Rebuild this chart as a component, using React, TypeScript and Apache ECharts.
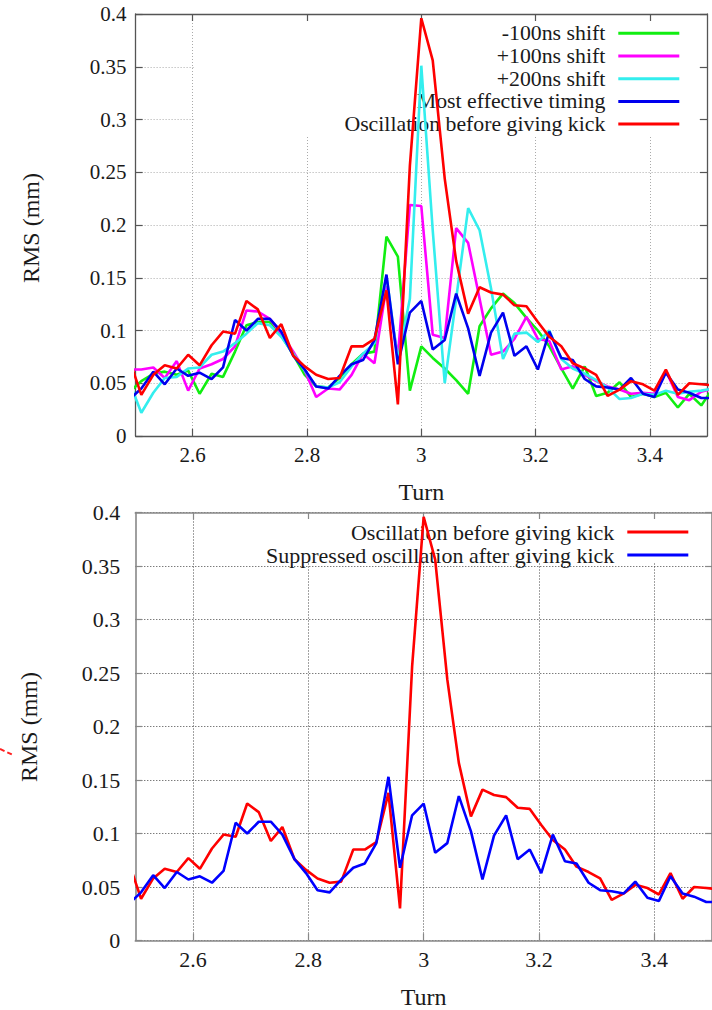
import React, { useEffect, useRef } from "react";
import * as echarts from "echarts";

// Turn positions of the samples (k = 0..50)
const turns = [
  2.49, 2.51, 2.531, 2.551, 2.572, 2.592, 2.612, 2.633, 2.653, 2.674,
  2.694, 2.714, 2.735, 2.755, 2.776, 2.796, 2.816, 2.837, 2.857, 2.878,
  2.898, 2.918, 2.939, 2.959, 2.98, 3.0, 3.02, 3.041, 3.061, 3.082,
  3.102, 3.122, 3.143, 3.163, 3.184, 3.204, 3.224, 3.245, 3.265, 3.286,
  3.306, 3.326, 3.347, 3.367, 3.388, 3.408, 3.428, 3.449, 3.469, 3.49,
  3.51,
];

const minus100 = [
  0.042, 0.052, 0.059, 0.061, 0.058, 0.062, 0.04, 0.059, 0.056, 0.08,
  0.105, 0.108, 0.108, 0.095, 0.077, 0.058, 0.047, 0.046, 0.055, 0.068,
  0.078, 0.08, 0.189, 0.17, 0.043, 0.085, 0.074, 0.064, 0.053, 0.04,
  0.104, 0.121, 0.135, 0.126, 0.112, 0.1, 0.085, 0.064, 0.045, 0.066,
  0.038, 0.041, 0.051, 0.037, 0.04, 0.037, 0.041, 0.027, 0.04, 0.029,
  0.045,
];

const plus100 = [
  0.063, 0.063, 0.065, 0.055, 0.071, 0.043, 0.064, 0.068, 0.073, 0.085,
  0.119, 0.118, 0.111, 0.097, 0.08, 0.062, 0.037, 0.045, 0.044, 0.058,
  0.078, 0.069, 0.142, 0.075, 0.219, 0.218, 0.096, 0.093, 0.197, 0.183,
  0.13, 0.077, 0.08, 0.092, 0.113, 0.092, 0.09, 0.063, 0.066, 0.058,
  0.052, 0.047, 0.044, 0.04, 0.041, 0.04, 0.062, 0.037, 0.034, 0.042,
  0.045,
];

const plus200 = [
  0.05, 0.022, 0.041, 0.055, 0.056, 0.064, 0.065, 0.077, 0.08, 0.088,
  0.097, 0.107, 0.105, 0.094, 0.078, 0.062, 0.047, 0.046, 0.051, 0.066,
  0.078, 0.088, 0.152, 0.072, 0.13, 0.351, 0.195, 0.05, 0.13, 0.216,
  0.195, 0.14, 0.073, 0.097, 0.098, 0.089, 0.1, 0.073, 0.064, 0.059,
  0.053, 0.046, 0.035, 0.036, 0.04, 0.039, 0.043, 0.04, 0.042, 0.043,
  0.045,
];

const effective = [
  0.035, 0.045, 0.061, 0.049, 0.064, 0.057, 0.06, 0.054, 0.065, 0.11,
  0.1, 0.111, 0.111, 0.099, 0.076, 0.063, 0.047, 0.045, 0.057, 0.068,
  0.072, 0.091, 0.153, 0.068, 0.117, 0.128, 0.082, 0.091, 0.135, 0.102,
  0.057, 0.098, 0.117, 0.076, 0.085, 0.063, 0.099, 0.074, 0.072, 0.054,
  0.047, 0.046, 0.044, 0.055, 0.04, 0.037, 0.06, 0.044, 0.041, 0.036,
  0.036,
];

const beforeKick = [
  0.071, 0.039, 0.058, 0.067, 0.064, 0.077, 0.067, 0.086, 0.099, 0.097,
  0.128, 0.12, 0.093, 0.106, 0.076, 0.066, 0.058, 0.054, 0.055, 0.085,
  0.085, 0.092, 0.138, 0.03, 0.256, 0.396, 0.356, 0.244, 0.166, 0.116,
  0.141, 0.136, 0.134, 0.124, 0.123, 0.108, 0.094, 0.085, 0.069, 0.064,
  0.058, 0.038, 0.044, 0.052, 0.049, 0.043, 0.063, 0.039, 0.05, 0.049,
  0.048,
];

const xTicks = [2.6, 2.8, 3.0, 3.2, 3.4];

const topNames = [
  "-100ns shift",
  "+100ns shift",
  "+200ns shift",
  "Most effective timing",
  "Oscillation before giving kick",
];
const bottomNames = [
  "Oscillation before giving kick",
  "Suppressed oscillation after giving kick",
];

const yTitle = "RMS (mm)";
const xTitle = "Turn";

const FONT = "Liberation Serif";

function pairs(vals: number[]) {
  return turns.map((t, i) => [t, vals[i]]);
}

export default function App() {
  const ref = useRef<HTMLDivElement>(null);

  useEffect(() => {
    if (!ref.current) return;
    const chart = echarts.init(ref.current, null, { renderer: "svg" });

    const richLabel = (size: number) => ({
      t: { fontFamily: FONT, fontSize: size, color: "#1a1a1a", lineHeight: size },
    });

    const makeX = (
      gridIndex: number,
      position: "top" | "bottom",
      axisColor: string,
      axisWidth: number,
      gridColor: string,
      labelSize: number,
      showName: boolean
    ) => ({
      type: "value",
      gridIndex,
      position,
      min: 2.5,
      max: 3.5,
      name: showName ? xTitle : "",
      nameLocation: "middle",
      nameGap: 44,
      nameTextStyle: { fontFamily: FONT, fontSize: 24, color: "#1a1a1a" },
      axisLine: { show: true, onZero: false, lineStyle: { color: axisColor, width: axisWidth } },
      axisTick: {
        show: true,
        inside: true,
        length: 7,
        customValues: xTicks,
        lineStyle: { color: axisColor, width: 1.2 },
      },
      axisLabel: {
        show: position === "bottom",
        customValues: xTicks,
        margin: 8,
        fontFamily: FONT,
        fontSize: labelSize,
        color: "#1a1a1a",
        formatter: (v: number) => "{t|" + String(Math.round(v * 100) / 100) + "}",
        rich: richLabel(labelSize),
      },
      splitLine: {
        show: position === "bottom",
        lineStyle: { color: gridColor, width: 1, type: [1, 2] },
      },
    });

    const makeY = (
      gridIndex: number,
      position: "left" | "right",
      axisColor: string,
      axisWidth: number,
      gridColor: string,
      labelSize: number,
      labelMargin: number
    ) => ({
      type: "value",
      gridIndex,
      position,
      min: 0,
      max: 0.4,
      interval: 0.05,
      axisLine: { show: true, onZero: false, lineStyle: { color: axisColor, width: axisWidth } },
      axisTick: { show: true, inside: true, length: 7, lineStyle: { color: axisColor, width: 1.2 } },
      axisLabel: {
        show: position === "left",
        margin: labelMargin,
        fontFamily: FONT,
        fontSize: labelSize,
        color: "#1a1a1a",
        formatter: (v: number) => "{t|" + String(Math.round(v * 100) / 100) + "}",
        rich: richLabel(labelSize),
      },
      splitLine: {
        show: position === "left",
        lineStyle: { color: gridColor, width: 1, type: [1, 2] },
      },
    });

    const topColors = ["#11ee11", "#ff00ff", "#33eeee", "#0000ee", "#ff0000"];
    const topData = [minus100, plus100, plus200, effective, beforeKick];
    const bottomColors = ["#ff0000", "#0000ff"];
    const bottomData = [beforeKick, effective];

    const series: any[] = [];
    topNames.forEach((name, i) => {
      series.push({
        type: "line",
        name,
        xAxisIndex: 0,
        yAxisIndex: 0,
        data: pairs(topData[i]),
        showSymbol: false,
        symbol: "none",
        color: topColors[i],
        lineStyle: { color: topColors[i], width: 2.6 },
        z: 2,
      });
    });
    bottomNames.forEach((name, i) => {
      series.push({
        type: "line",
        name,
        xAxisIndex: 2,
        yAxisIndex: 2,
        data: pairs(bottomData[i]),
        showSymbol: false,
        symbol: "none",
        color: bottomColors[i],
        lineStyle: { color: bottomColors[i], width: 2.6 },
        z: 2,
      });
    });

    const legendItem = (name: string, top: number, right: number, size: number) => ({
      show: true,
      data: [{ name, icon: "rect" }],
      top,
      right,
      orient: "vertical",
      align: "right",
      padding: 0,
      itemWidth: 61,
      itemHeight: 3,
      selectedMode: false,
      z: 1,
      textStyle: {
        fontFamily: FONT,
        fontSize: size,
        lineHeight: 20,
        color: "#1a1a1a",
        padding: [0, 8, 0, 0],
      },
    });

    const topLegendTops = [22.3, 45, 67.7, 90.4, 113.1];
    const bottomLegendTops = [521, 544];

    const legends = [
      ...topNames.map((n, i) => legendItem(n, topLegendTops[i], 32.7, 21.8)),
      ...bottomNames.map((n, i) => legendItem(n, bottomLegendTops[i], 23.7, 22)),
    ];

    chart.setOption({
      animation: false,
      backgroundColor: "#ffffff",
      textStyle: { fontFamily: FONT },
      grid: [
        { left: 135.6, top: 14, width: 571.4, height: 422, containLabel: false },
        { left: 135.3, top: 512.5, width: 579.7, height: 428, containLabel: false },
      ],
      xAxis: [
        makeX(0, "bottom", "#555", 1.3, "#aaa", 21, true),
        makeX(0, "top", "#555", 1.3, "#aaa", 21, false),
        makeX(1, "bottom", "#888", 1.6, "#444", 22, true),
        makeX(1, "top", "#888", 1.6, "#444", 22, false),
      ],
      yAxis: [
        makeY(0, "left", "#555", 1.3, "#aaa", 21, 9),
        makeY(0, "right", "#555", 1.3, "#aaa", 21, 9),
        makeY(1, "left", "#888", 1.6, "#444", 22, 15),
        makeY(1, "right", "#888", 1.6, "#444", 22, 15),
      ],
      legend: legends,
      graphic: [
        {
          type: "rect",
          z: 1,
          silent: true,
          shape: { x: 195, y: 21, width: 503, height: 115 },
          style: { fill: "#ffffff" },
        },
        {
          type: "rect",
          z: 1,
          silent: true,
          shape: { x: 200, y: 519, width: 505, height: 44 },
          style: { fill: "#ffffff" },
        },
        {
          type: "text",
          z: 3,
          silent: true,
          x: 31,
          y: 228,
          rotation: Math.PI / 2,
          style: {
            text: yTitle,
            fontFamily: FONT,
            fontSize: 24,
            fill: "#1a1a1a",
            align: "center",
            verticalAlign: "middle",
          },
        },
        {
          type: "text",
          z: 3,
          silent: true,
          x: 29,
          y: 727,
          rotation: Math.PI / 2,
          style: {
            text: yTitle,
            fontFamily: FONT,
            fontSize: 24,
            fill: "#1a1a1a",
            align: "center",
            verticalAlign: "middle",
          },
        },
        {
          type: "line",
          z: 3,
          silent: true,
          shape: { x1: 0, y1: 749, x2: 13, y2: 755 },
          style: { stroke: "#ff2020", lineWidth: 2, lineDash: [5, 3] },
        },
      ],
      series,
    });

    return () => chart.dispose();
  }, []);

  return (
    <div
      ref={ref}
      style={{ position: "absolute", left: 0, top: 0, width: 712, height: 1010, background: "#fff" }}
    />
  );
}
